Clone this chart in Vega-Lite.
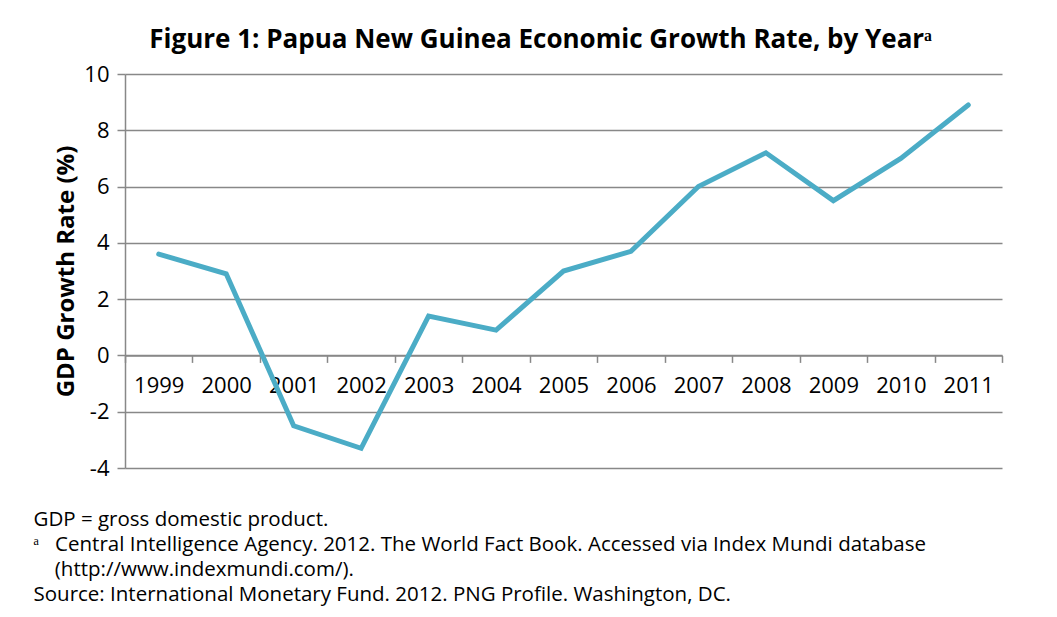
{
  "$schema": "https://vega.github.io/schema/vega-lite/v6.json",
  "autosize": {"type": "none"},
  "width": 877,
  "height": 394,
  "padding": {"left": 125, "top": 74, "right": 55, "bottom": 149},
  "background": "white",
  "title": {
    "text": "Figure 1: Papua New Guinea Economic Growth Rate, by Yearᵃ",
    "font": "Open Sans",
    "fontSize": 26,
    "fontWeight": "bold",
    "color": "black",
    "anchor": "middle",
    "dx": -23,
    "offset": 10
  },
  "config": {"view": {"stroke": null}, "font": "Open Sans"},
  "data": {
    "values": [
      {"year": "1999", "growth": 3.6},
      {"year": "2000", "growth": 2.9},
      {"year": "2001", "growth": -2.5},
      {"year": "2002", "growth": -3.3},
      {"year": "2003", "growth": 1.4},
      {"year": "2004", "growth": 0.9},
      {"year": "2005", "growth": 3.0},
      {"year": "2006", "growth": 3.7},
      {"year": "2007", "growth": 6.0},
      {"year": "2008", "growth": 7.2},
      {"year": "2009", "growth": 5.5},
      {"year": "2010", "growth": 7.0},
      {"year": "2011", "growth": 8.9}
    ]
  },
  "layer": [
    {
      "mark": {"type": "line", "color": "#4BACC6", "strokeWidth": 5, "strokeCap": "round"},
      "encoding": {
        "x": {
          "field": "year",
          "type": "ordinal",
          "scale": {"type": "band", "paddingInner": 0, "paddingOuter": 0},
          "axis": {
            "orient": "bottom",
            "title": null,
            "labelAngle": 0,
            "offset": -112.6,
            "tickBand": "extent",
            "domainColor": "#888888",
            "domainWidth": 1.5,
            "tickColor": "#888888",
            "tickWidth": 1.5,
            "tickSize": 7,
            "labelFont": "Open Sans",
            "labelFontSize": 22,
            "labelColor": "black",
            "labelPadding": 13,
            "grid": false
          }
        },
        "y": {
          "field": "growth",
          "type": "quantitative",
          "scale": {"domain": [-4, 10], "nice": false, "zero": false},
          "axis": {
            "values": [-4, -2, 0, 2, 4, 6, 8, 10],
            "labelExpr": "'' + datum.value",
            "title": "GDP Growth Rate (%)",
            "titleFont": "Open Sans",
            "titleFontWeight": "bold",
            "titleFontSize": 24,
            "titleColor": "black",
            "titlePadding": 5,
            "labelFont": "Open Sans",
            "labelFontSize": 22,
            "labelColor": "black",
            "labelPadding": 8,
            "tickSize": 8,
            "tickColor": "#888888",
            "tickWidth": 1.5,
            "domainColor": "#888888",
            "domainWidth": 1.5,
            "grid": true,
            "gridColor": "#888888",
            "gridWidth": 1.5
          }
        }
      }
    },
    {
      "mark": {"type": "point", "opacity": 0},
      "encoding": {
        "x": {
          "field": "year",
          "type": "ordinal",
          "axis": {
            "orient": "bottom",
            "labels": false,
            "ticks": false,
            "domain": false,
            "grid": false,
            "title": [
              "GDP = gross domestic product.",
              "ᵃ\u00a0\u00a0\u00a0Central Intelligence Agency. 2012. The World Fact Book. Accessed via Index Mundi database",
              "\u200b\u00a0\u00a0\u00a0\u00a0(http://www.indexmundi.com/).",
              "Source: International Monetary Fund. 2012. PNG Profile. Washington, DC."
            ],
            "titleX": -92,
            "titleAlign": "left",
            "titleBaseline": "top",
            "titlePadding": 41,
            "titleFont": "Open Sans",
            "titleFontSize": 20.5,
            "titleFontWeight": "normal",
            "titleColor": "black",
            "titleLineHeight": 25
          }
        },
        "y": {"field": "growth", "type": "quantitative"}
      }
    }
  ],
  "resolve": {"scale": {"x": "independent"}}
}
